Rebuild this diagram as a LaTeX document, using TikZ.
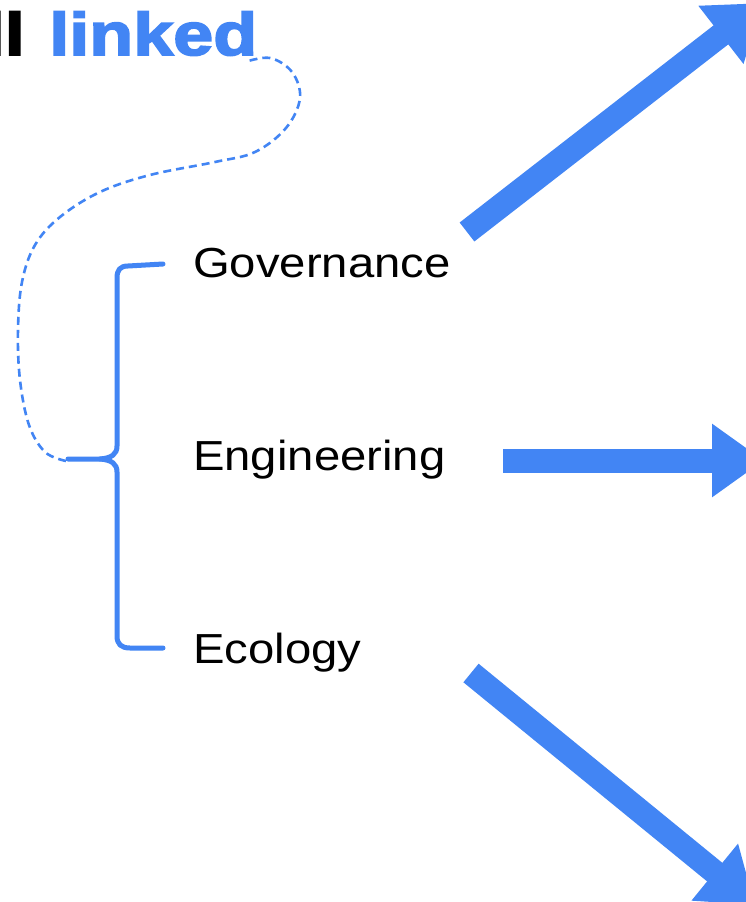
\documentclass[tikz,border=0pt]{standalone}
\usepackage{fontspec}
\setmainfont{Liberation Sans}
\newfontfamily\labelfont{Liberation Sans}[FakeStretch=1.125]
\newfontfamily\titlefont{Liberation Sans Bold}[FakeStretch=1.2,FakeBold=3]
\usetikzlibrary{arrows.meta}
\definecolor{linkblue}{RGB}{66,133,244}

\begin{document}
\begin{tikzpicture}[x=1pt,y=-1pt,
    item/.style={font=\labelfont\fontsize{42}{50}\selectfont, inner sep=0pt, anchor=base west},
    headline/.style={font=\titlefont\fontsize{60}{70}\selectfont, inner sep=0pt},
    bigarrow/.style={draw=linkblue, line width=24pt, -{Triangle[length=52pt,width=70pt]}},
    brace/.style={draw=linkblue, line width=5pt, line cap=round, line join=round},
    link/.style={draw=linkblue, line width=2.6pt, dash pattern=on 8pt off 5pt}]

    % Frame of the picture
    \fill[white] (0,0) rectangle (746,902);
    \useasboundingbox (0,0) rectangle (746,902);
    \clip (0,0) rectangle (746,902);

    % Add the headline and the three topics
    \node[headline, anchor=base east] (titleend) at (25,55) {ll};
    \node[headline, anchor=base west, text=linkblue] (title) at (49,55) {linked};
    \node[item] (gov) at (193,277) {Governance};
    \node[item] (eng) at (193,470) {Engineering};
    \node[item] (eco) at (193,663) {Ecology};

    % Ends of the arrows
    \coordinate (govtail) at (467,232);
    \coordinate (govtip)  at (762,3);
    \coordinate (engtail) at (503,460.5);
    \coordinate (engtip)  at (764,460.5);
    \coordinate (ecotail) at (471,673);
    \coordinate (ecotip)  at (755,905);
    \coordinate (cusp)    at (68,459);

    % The brace round the topics
    \draw[brace] (163,264) -- (128,266) .. controls (120,266) and (117,270) .. (117,278)
        -- (117,446) .. controls (117,454) and (112,458) .. (100,459) -- (cusp);
    \draw[brace] (100,459) .. controls (112,460) and (117,464) .. (117,472)
        -- (117,636) .. controls (117,644) and (121,648) .. (130,648) -- (163,648);

    % Dashed link from the headline to the brace
    \draw[link] plot[smooth, tension=0.6] coordinates {(66,461) (45,452) (29,425) (20,380)
        (18,330) (22,282) (35,245) (60,217) (100,192) (150,175) (215,162) (255,152)
        (286,128) (300,98) (292,72) (270,58) (245,62)};

    % Connect the topics with arrows
    \draw[bigarrow] (govtail) -- (govtip);
    \draw[bigarrow] (engtail) -- (engtip);
    \draw[bigarrow] (ecotail) -- (ecotip);

\end{tikzpicture}
\end{document}
